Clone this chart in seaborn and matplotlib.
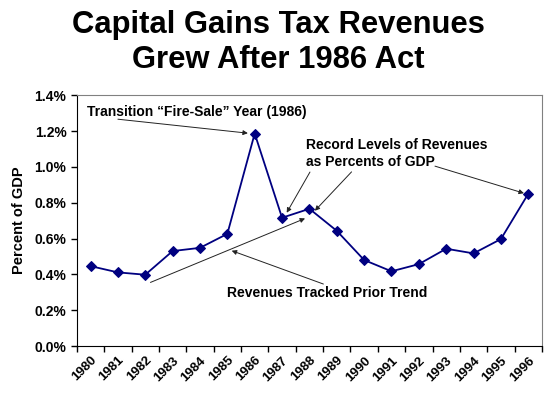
import seaborn as sns
import matplotlib.pyplot as plt
import pandas as pd
from matplotlib.ticker import FuncFormatter, MultipleLocator

years = list(range(1980, 1997))
revenue_pct_gdp = [0.446, 0.411, 0.398, 0.530, 0.548, 0.626, 1.186, 0.716, 0.766,
                   0.643, 0.480, 0.417, 0.457, 0.543, 0.517, 0.597, 0.850]

df = pd.DataFrame({'year': years, 'pct': revenue_pct_gdp})

sns.set_style('ticks')
plt.rcParams['font.family'] = ['Liberation Sans', 'DejaVu Sans']
plt.rcParams.update({'text.color': 'black', 'axes.labelcolor': 'black',
                     'xtick.color': 'black', 'ytick.color': 'black'})

fig = plt.figure(figsize=(5.57, 3.95), dpi=100)
ax = fig.add_axes([0.138, 0.124, 0.835, 0.635])

sns.lineplot(data=df, x='year', y='pct', ax=ax, color='#000080', linewidth=1.3,
             marker='D', markersize=5, markeredgecolor='#000080')

ax.set_xlim(years[0] - 0.5, years[-1] + 0.5)
ax.set_ylim(0, 1.4)
ax.yaxis.set_major_locator(MultipleLocator(0.2))
ax.yaxis.set_major_formatter(FuncFormatter(lambda v, p: f'{v:.1f}%'))
ax.set_xticks(years)
ax.set_xticklabels([str(y) for y in years], rotation=45, ha='right',
                   rotation_mode='anchor', fontweight='bold', fontsize=9.5)
ax.set_xticks([y + 0.5 for y in [years[0] - 1] + years], minor=True)
ax.tick_params(axis='x', which='major', length=0, pad=6)
ax.tick_params(axis='x', which='minor', length=4, width=1, color='black')
ax.tick_params(axis='y', length=4, width=1, labelsize=10)
for lab in ax.get_yticklabels():
    lab.set_fontweight('bold')

ax.set_xlabel('')
ax.set_ylabel('Percent of GDP', fontsize=10.5, fontweight='bold', labelpad=6)

for side in ['top', 'right']:
    ax.spines[side].set_visible(True)
    ax.spines[side].set_color('#808080')
ax.spines['left'].set_color('black')
ax.spines['bottom'].set_color('black')

fig.text(0.5, 0.937, 'Capital Gains Tax Revenues', ha='center', va='center',
         fontsize=22.3, fontweight='bold')
fig.text(0.5, 0.849, 'Grew After 1986 Act', ha='center', va='center',
         fontsize=22.3, fontweight='bold')

arrow = dict(arrowstyle='-|>', color='#222222', lw=0.7, mutation_scale=7,
             shrinkA=0, shrinkB=0)
txt = dict(fontsize=10, fontweight='bold')

ax.text(1979.87, 1.305, 'Transition \u201cFire-Sale\u201d Year (1986)', ha='left',
        va='center', **txt)
ax.annotate('', xy=(1985.75, 1.188), xytext=(1981.0, 1.266), arrowprops=arrow)

ax.text(1987.87, 1.074, 'Record Levels of Revenues\nas Percents of GDP', ha='left',
        va='center', linespacing=1.25, **txt)
ax.annotate('', xy=(1987.17, 0.744), xytext=(1988.02, 0.971), arrowprops=arrow)
ax.annotate('', xy=(1988.20, 0.755), xytext=(1989.54, 0.972), arrowprops=arrow)
ax.annotate('', xy=(1995.84, 0.853), xytext=(1992.59, 1.004), arrowprops=arrow)

ax.text(1988.64, 0.297, 'Revenues Tracked Prior Trend', ha='center', va='center', **txt)
ax.annotate('', xy=(1985.16, 0.532), xytext=(1988.51, 0.346), arrowprops=arrow)
ax.annotate('', xy=(1987.84, 0.712), xytext=(1982.19, 0.355), arrowprops=arrow)

fig.savefig('out.png', dpi=100)
